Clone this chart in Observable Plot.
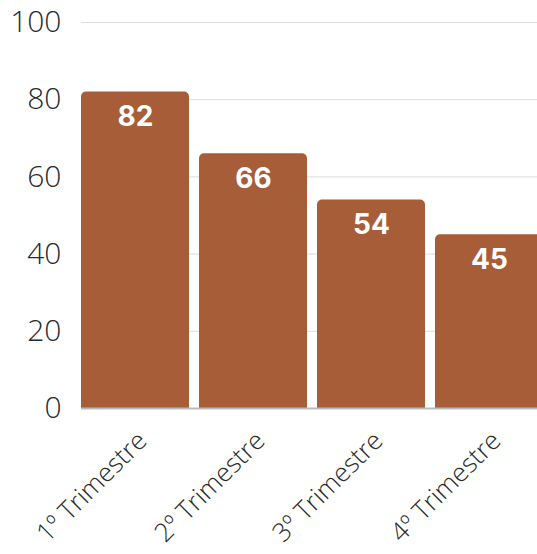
<!DOCTYPE html>
<html>
<head>
<meta charset="utf-8">
<script src="https://cdn.jsdelivr.net/npm/d3@7"></script>
<script src="https://cdn.jsdelivr.net/npm/@observablehq/plot@0.6"></script>
<style>
  html, body { margin: 0; padding: 0; background: #fff; overflow: hidden; }
  #chart { width: 537px; height: 554px; overflow: hidden; }
</style>
</head>
<body>
<div id="chart"></div>
<script>
const categories = ["1º Trimestre", "2º Trimestre", "3º Trimestre", "4º Trimestre"];
const values = [82, 66, 54, 45];
const yTicks = [0, 20, 40, 60, 80, 100];

const data = categories.map((c, i) => ({category: c, value: values[i]}));
const barColor = "#A85D39";
const font = "Inter, 'Open Sans', sans-serif";

const chart = Plot.plot({
  width: 537,
  height: 554,
  marginLeft: 81,
  marginRight: -6,
  marginTop: 22,
  marginBottom: 146,
  style: {fontFamily: font, color: "#333", background: "white", overflow: "hidden"},
  x: {domain: categories, paddingInner: 0.085, paddingOuter: 0, label: null},
  y: {domain: [0, 100], label: null},
  marks: [
    Plot.ruleY(yTicks.filter(t => t > 0), {stroke: "#dcdcdc", strokeWidth: 1}),
    Plot.barY(data, {x: "category", y: "value", fill: barColor, rx: 5}),
    Plot.barY(data, {x: "category", y: d => d.value * 0.5, fill: barColor}),
    Plot.ruleY([0], {stroke: "#bbb", strokeWidth: 2}),
    Plot.text(data, {x: "category", y: "value", text: d => String(d.value), fill: "white", fontSize: 28, fontWeight: "bold", dy: 25, fontFamily: font}),
    Plot.axisY({ticks: yTicks, tickSize: 0, tickPadding: 20, fontSize: 30, label: null, fill: "#2a2a2a", fontFamily: "'Open Sans', sans-serif", fontWeight: 300}),
    Plot.axisX({tickSize: 0, tickRotate: -45, tickPadding: 28, dx: 7, fontSize: 26, label: null, fill: "#2a2a2a", fontFamily: "'Open Sans', sans-serif", fontWeight: 300})
  ]
});
document.getElementById("chart").appendChild(chart);
</script>
</body>
</html>
